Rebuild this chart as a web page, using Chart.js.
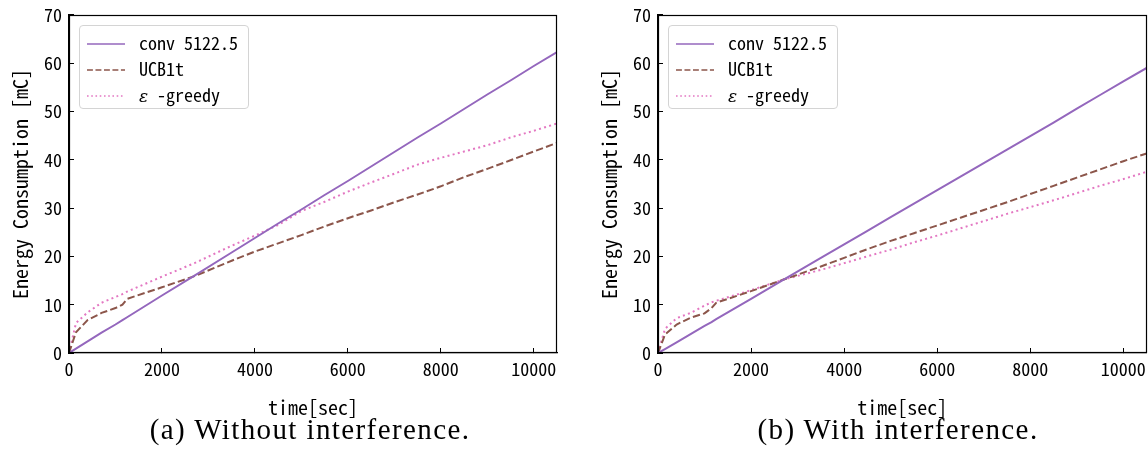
<!DOCTYPE html>
<html>
<head>
<meta charset="utf-8">
<script src="https://cdn.jsdelivr.net/npm/chart.js@4.4.1/dist/chart.umd.min.js"></script>
<style>
  body { margin:0; background:#fff; width:1148px; height:472px; overflow:hidden; position:relative;
         font-family:"Noto Sans Mono CJK JP","Noto Sans CJK JP",sans-serif; }
  .panel { position:absolute; top:-8px; height:433px; }
  .lgd { position:absolute; left:79px; top:33px; width:168px; height:82px; border:1px solid #d4d4d4;
         border-radius:4px; background:rgba(255,255,255,.85); font-size:18px; color:#000; }
  .lgd .row { position:absolute; left:0; height:26px; line-height:26px; white-space:nowrap; }
  .lgd svg { position:absolute; left:6px; top:12px; }
  .lgd span { position:absolute; left:59px; top:-1px; }
  .cap { position:absolute; top:413px; width:540px; font-family:"Liberation Serif",serif; font-size:29px; letter-spacing:1.4px; text-align:center; color:#000; }
</style>
</head>
<body>
<div class="panel" style="left:0;width:575px"><canvas id="chA"></canvas><div class="lgd" id="lgA"></div></div>
<div class="panel" style="left:589px;width:567px"><canvas id="chB"></canvas><div class="lgd" id="lgB"></div></div>
<div class="cap" style="left:40px">(a) Without interference.</div>
<div class="cap" style="left:628px">(b) With interference.</div>
<script>
// time axis (sec) shared by all series
const timeSec = [0, 150, 400, 700, 1000, 1150, 1250, 2000, 2700, 3500, 4000, 4500, 5000, 5500, 6000, 6500, 7000, 7500, 8000, 8500, 9000, 9500, 10000, 10500];

// (a) without interference
const convA = [0, 0.9, 2.4, 4.2, 5.9, 6.8, 7.4, 11.9, 16.0, 20.8, 23.8, 26.8, 29.7, 32.7, 35.6, 38.6, 41.6, 44.6, 47.5, 50.5, 53.5, 56.4, 59.4, 62.3];
const ucbA  = [0, 4.3, 6.8, 8.3, 9.3, 10.0, 11.2, 13.6, 15.9, 19.1, 21.0, 22.7, 24.4, 26.2, 27.9, 29.5, 31.2, 32.8, 34.5, 36.4, 38.1, 39.9, 41.7, 43.5];
const epsA  = [0, 6.2, 8.4, 10.4, 11.6, 12.2, 12.7, 15.8, 18.6, 22.2, 24.3, 26.5, 29.4, 31.3, 33.4, 35.3, 37.1, 39.0, 40.4, 41.7, 43.0, 44.6, 46.0, 47.5];

// (b) with interference
const convB = [0, 0.8, 2.2, 3.9, 5.6, 6.4, 7.0, 11.2, 15.2, 19.7, 22.5, 25.3, 28.1, 30.9, 33.7, 36.5, 39.3, 42.1, 44.9, 47.7, 50.6, 53.4, 56.2, 59.0];
const ucbB  = [0, 3.8, 5.9, 7.3, 8.2, 9.3, 10.4, 12.8, 15.2, 17.9, 19.7, 21.5, 23.2, 24.8, 26.4, 28.0, 29.6, 31.2, 32.9, 34.6, 36.3, 38.0, 39.7, 41.3];
const epsB  = [0, 5.0, 7.2, 8.3, 9.8, 10.5, 10.8, 13.0, 15.2, 17.2, 18.6, 20.0, 21.4, 22.9, 24.3, 25.8, 27.3, 28.8, 30.2, 31.6, 33.1, 34.6, 36.0, 37.5];

const seriesNames = ['conv 5122.5', 'UCB1t', 'ε-greedy'];
const seriesColors = ['#9467bd', '#8c564b', '#e377c2'];
const seriesDash = [[], [7.4, 3.2], [2, 3.3]];

const xTickVals = [0, 2000, 4000, 6000, 8000, 10000];
const yTickVals = [0, 10, 20, 30, 40, 50, 60, 70];
const xMax = 10500;
const yMax = 70;

const pts = (vals) => vals.map((v, i) => ({ x: timeSec[i], y: v }));

// draw the full box around the plot like matplotlib spines
const framePlugin = {
  id: 'frame',
  afterDraw(c) {
    const a = c.chartArea, ctx = c.ctx;
    ctx.save();
    ctx.strokeStyle = '#000';
    ctx.lineWidth = 1.2;
    ctx.strokeRect(Math.round(a.left) + 0.5, Math.round(a.top) + 0.5, Math.round(a.width) - 1, Math.round(a.height) - 1);
    ctx.restore();
  }
};

function buildLegend(id) {
  const el = document.getElementById(id);
  el.innerHTML = seriesNames.map((n, i) => {
    const label = i === 2 ? '<i style="font-family:\'DejaVu Serif\',serif;font-size:17px">ε</i>&nbsp;-greedy' : n;
    return `<div class="row" style="top:${4 + i * 26}px;width:168px">
      <svg width="40" height="4"><line x1="1" y1="2" x2="39" y2="2" stroke="${seriesColors[i]}" stroke-width="1.6"
        stroke-dasharray="${seriesDash[i].map(d => d * 0.8).join(' ')}"/></svg>
      <span>${label}</span></div>`;
  }).join('');
}

function makeChart(canvasId, conv, ucb, eps, padRight) {
  const tickFont = { family: '"Noto Sans Mono CJK JP","Noto Sans CJK JP",sans-serif', size: 18 };
  const data = [conv, ucb, eps];
  return new Chart(document.getElementById(canvasId), {
    type: 'line',
    data: {
      datasets: data.map((d, i) => ({
        label: seriesNames[i],
        data: pts(d),
        borderColor: seriesColors[i],
        backgroundColor: seriesColors[i],
        borderWidth: 2,
        borderDash: seriesDash[i],
        pointRadius: 0,
        tension: 0,
        fill: false
      }))
    },
    options: {
      responsive: true, maintainAspectRatio: false, animation: false,
      layout: { padding: { top: 6, right: padRight, bottom: 0, left: 0 } },
      plugins: { legend: { display: false }, tooltip: { enabled: false } },
      scales: {
        x: {
          type: 'linear', min: 0, max: xMax,
          afterBuildTicks: s => { s.ticks = xTickVals.map(v => ({ value: v })); },
          ticks: { color: '#000', font: tickFont, padding: 10, maxRotation: 0, callback: v => String(v) },
          grid: { drawOnChartArea: false, tickLength: -5, color: '#000', lineWidth: 1 },
          border: { color: '#000', width: 1.2 },
          title: { display: true, text: 'time[sec]', color: '#000', font: { family: tickFont.family, size: 20 }, padding: { top: 0, bottom: 6 } },
          afterFit: s => { s.height = 72; }
        },
        y: {
          type: 'linear', min: 0, max: yMax,
          afterBuildTicks: s => { s.ticks = yTickVals.map(v => ({ value: v })); },
          ticks: { color: '#000', font: tickFont, padding: 12 },
          grid: { drawOnChartArea: false, tickLength: -5, color: '#000', lineWidth: 1 },
          border: { color: '#000', width: 1.2 },
          title: { display: true, text: 'Energy Consumption [mC]', color: '#000', font: { family: tickFont.family, size: 20 }, padding: { top: 8, bottom: 0 } },
          afterFit: s => { s.width = 69; }
        }
      }
    },
    plugins: [framePlugin]
  });
}

makeChart('chA', convA, ucbA, epsA, 18);
makeChart('chB', convB, ucbB, epsB, 3);
buildLegend('lgA');
buildLegend('lgB');
</script>
</body>
</html>
